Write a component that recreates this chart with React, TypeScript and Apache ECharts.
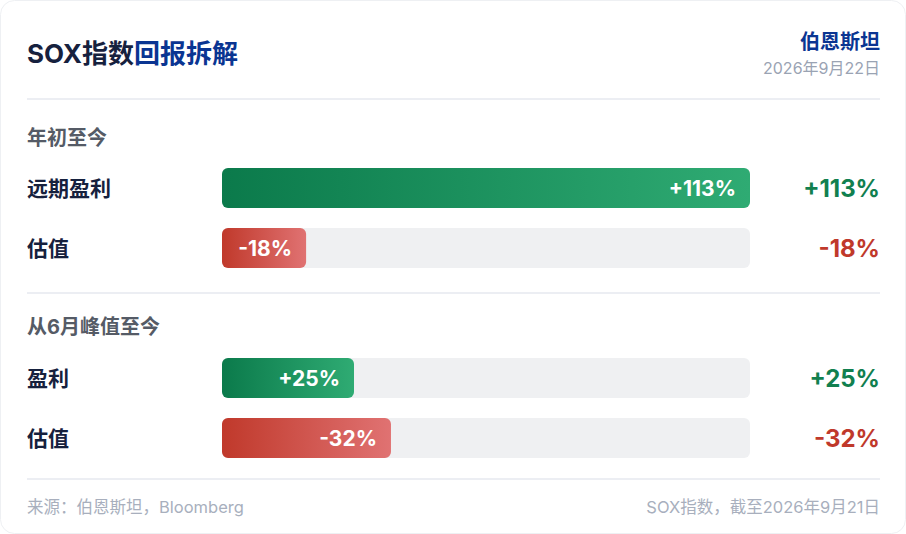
import React, { useEffect, useRef } from "react";
import * as echarts from "echarts";

const sections = ["年初至今", "从6月峰值至今"];
const ytdCategories = ["远期盈利", "估值"];
const ytdValues = [113, -18];
const peakCategories = ["盈利", "估值"];
const peakValues = [25, -32];
const sectionMax = [113, 100];

const FONT = "Inter, 'Noto Sans CJK SC', 'Noto Sans', sans-serif";
const NAVY = "#16213e";
const BLUE = "#0a3592";
const GREEN_TXT = "#11804f";
const RED_TXT = "#c0392b";

const fmt = (v: number) => (v > 0 ? "+" : "") + v + "%";

const greenGrad = () =>
  new echarts.graphic.LinearGradient(0, 0, 1, 0, [
    { offset: 0, color: "#0b7a4b" },
    { offset: 1, color: "#2fab73" },
  ]);
const redGrad = () =>
  new echarts.graphic.LinearGradient(0, 0, 1, 0, [
    { offset: 0, color: "#c0392b" },
    { offset: 1, color: "#e07272" },
  ]);

export default function App() {
  const ref = useRef<HTMLDivElement>(null);
  useEffect(() => {
    if (!ref.current) return;
    const chart = echarts.init(ref.current, null, { renderer: "svg" });
    const groups = [
      { cats: ytdCategories, vals: ytdValues, top: 158 },
      { cats: peakCategories, vals: peakValues, top: 348 },
    ];
    const grid = groups.map((g) => ({ left: 222, right: 156, top: g.top, height: 120 }));
    const xAxis = groups.map((g, i) => ({
      type: "value",
      gridIndex: i,
      min: 0,
      max: sectionMax[i],
      show: false,
    }));
    const yAxis: any[] = [];
    groups.forEach((g, i) => {
      yAxis.push({
        type: "category",
        gridIndex: i,
        data: g.cats,
        inverse: true,
        axisLine: { show: false },
        axisTick: { show: false },
        axisLabel: {
          align: "left",
          margin: 195,
          color: NAVY,
          fontSize: 21,
          fontWeight: "bold",
          fontFamily: FONT,
        },
      });
      yAxis.push({
        type: "category",
        gridIndex: i,
        data: g.vals.map(fmt),
        inverse: true,
        position: "right",
        axisLine: { show: false },
        axisTick: { show: false },
        axisLabel: {
          align: "right",
          margin: 130,
          fontFamily: FONT,
          formatter: (v: string) => (v.startsWith("-") ? `{r|${v}}` : `{g|${v}}`),
          rich: {
            g: { color: GREEN_TXT, fontSize: 24, fontWeight: "bold", fontFamily: FONT },
            r: { color: RED_TXT, fontSize: 24, fontWeight: "bold", fontFamily: FONT },
          },
        },
      });
    });
    const series = groups.map((g, i) => ({
      type: "bar",
      xAxisIndex: i,
      yAxisIndex: i * 2,
      barWidth: 40,
      showBackground: true,
      backgroundStyle: { color: "#eff0f2", borderRadius: 6 },
      data: g.vals.map((v) => ({
        value: Math.abs(v),
        raw: v,
        itemStyle: { color: v >= 0 ? greenGrad() : redGrad(), borderRadius: 6 },
      })),
      label: {
        show: true,
        position: "insideRight",
        distance: 14,
        color: "#ffffff",
        fontSize: 21,
        fontWeight: "bold",
        fontFamily: FONT,
        formatter: (p: any) => fmt(p.data.raw),
      },
    }));
    const divider = (y: number) => ({
      type: "line",
      shape: { x1: 27, y1: y, x2: 880, y2: y },
      style: { stroke: "#eceef3", lineWidth: 2 },
      silent: true,
    });
    chart.setOption({
      animation: false,
      backgroundColor: "#ffffff",
      grid,
      xAxis,
      yAxis,
      series,
      graphic: [
        {
          type: "rect",
          shape: { x: 0.5, y: 0.5, width: 905, height: 533, r: 14 },
          style: { fill: "none", stroke: "#eef0f3", lineWidth: 1 },
          silent: true,
        },
        {
          type: "text",
          x: 27,
          y: 53,
          style: {
            text: "{a|SOX指数}{b|回报拆解}",
            verticalAlign: "middle",
            rich: {
              a: { fill: NAVY, fontSize: 26, fontWeight: "bold", fontFamily: FONT },
              b: { fill: BLUE, fontSize: 26, fontWeight: "bold", fontFamily: FONT },
            },
          },
        },
        {
          type: "text",
          x: 880,
          y: 42,
          style: {
            text: "伯恩斯坦",
            fill: BLUE,
            fontSize: 20,
            fontWeight: "bold",
            fontFamily: FONT,
            align: "right",
            verticalAlign: "middle",
          },
        },
        {
          type: "text",
          x: 880,
          y: 68,
          style: {
            text: "2026年9月22日",
            fill: "#9aa3b3",
            fontSize: 16,
            fontFamily: FONT,
            align: "right",
            verticalAlign: "middle",
          },
        },
        divider(99),
        {
          type: "text",
          x: 27,
          y: 138,
          style: {
            text: sections[0],
            fill: "#555b66",
            fontSize: 20,
            fontWeight: "bold",
            fontFamily: FONT,
            verticalAlign: "middle",
          },
        },
        divider(293),
        {
          type: "text",
          x: 27,
          y: 327,
          style: {
            text: sections[1],
            fill: "#555b66",
            fontSize: 20,
            fontWeight: "bold",
            fontFamily: FONT,
            verticalAlign: "middle",
          },
        },
        divider(479),
        {
          type: "text",
          x: 27,
          y: 507,
          style: {
            text: "来源：伯恩斯坦，Bloomberg",
            fill: "#a8afbd",
            fontSize: 16.5,
            fontFamily: FONT,
            verticalAlign: "middle",
          },
        },
        {
          type: "text",
          x: 880,
          y: 507,
          style: {
            text: "SOX指数，截至2026年9月21日",
            fill: "#a8afbd",
            fontSize: 16.5,
            fontFamily: FONT,
            align: "right",
            verticalAlign: "middle",
          },
        },
      ],
    });
    return () => chart.dispose();
  }, []);
  return (
    <div
      ref={ref}
      style={{ position: "fixed", left: 0, top: 0, width: 906, height: 534 }}
    />
  );
}
